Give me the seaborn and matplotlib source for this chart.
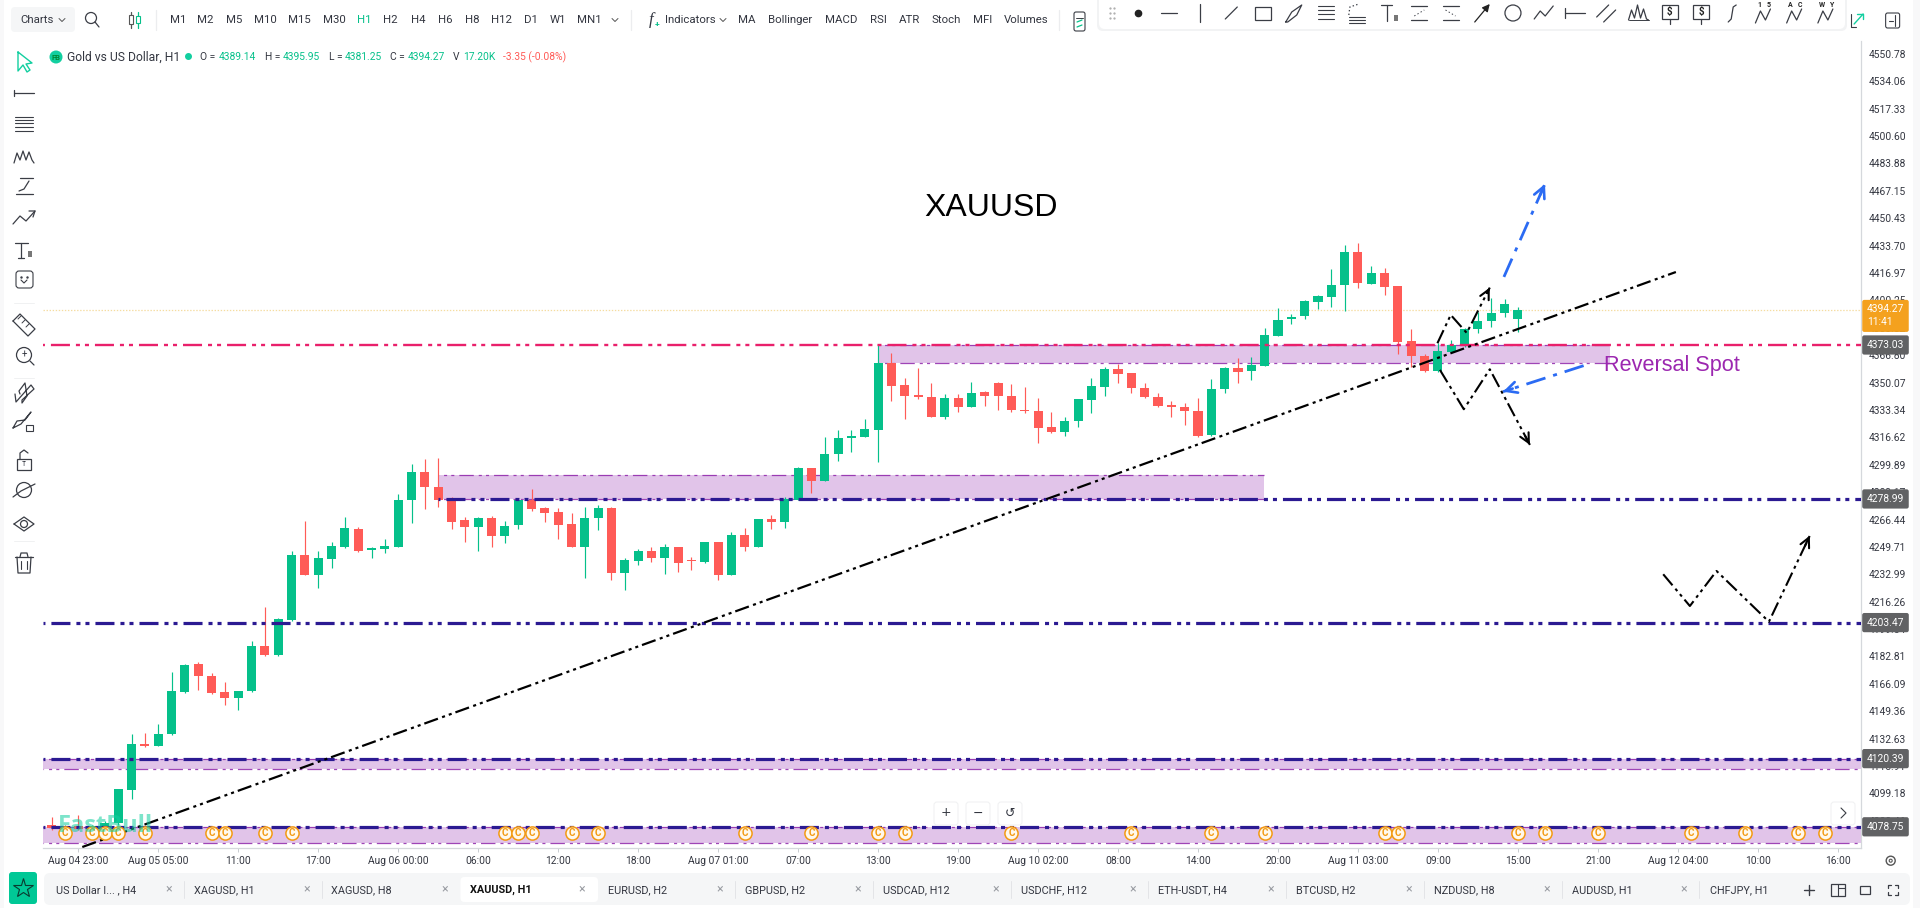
import numpy as np
import pandas as pd
import matplotlib.pyplot as plt
from matplotlib.patches import FancyBboxPatch, Rectangle, Circle
import seaborn as sns

# candles, one per hour, bar 0 is Aug 04 23:00
opens = [4080.0, 4078.0, 4079.0, 4077.5, 4079.0, 4081.0, 4101.2, 4129.1, 4128.3, 4135.4, 4161.3, 4178.2, 4170.8, 4160.9, 4157.6, 4161.7,
         4189.0, 4183.5, 4205.0, 4244.5, 4232.7, 4242.5, 4249.8, 4260.8, 4247.8, 4248.6, 4249.8, 4278.3, 4295.4, 4286.5, 4279.0, 4266.1,
         4262.1, 4267.6, 4256.4, 4262.9, 4278.3, 4273.3, 4270.8, 4263.5, 4249.9, 4267.2, 4273.3, 4233.8, 4241.3, 4247.4, 4242.9, 4249.5,
         4241.5, 4240.7, 4252.7, 4232.6, 4256.8, 4249.9, 4266.6, 4264.7, 4278.4, 4297.7, 4290.0, 4306.3, 4316.0, 4316.8, 4320.9, 4361.8,
         4348.6, 4341.9, 4341.5, 4328.9, 4340.5, 4335.4, 4344.1, 4349.6, 4342.1, 4333.2, 4332.5, 4322.8, 4319.9, 4326.6, 4339.5, 4347.6,
         4358.4, 4355.9, 4346.8, 4341.5, 4336.4, 4335.4, 4332.5, 4317.9, 4346.0, 4358.8, 4357.4, 4360.2, 4378.5, 4388.7, 4390.8, 4399.3,
         4402.6, 4409.9, 4430.1, 4410.5, 4417.0, 4409.1, 4375.5, 4366.5, 4357.4, 4369.0, 4372.4, 4382.6, 4387.7, 4392.4, 4389.14]
highs = [4084.9, 4080.0, 4085.9, 4080.0, 4082.0, 4102.0, 4135.4, 4136.2, 4141.5, 4173.1, 4178.0, 4179.2, 4172.5, 4167.0, 4161.7, 4192.4,
         4213.2, 4206.5, 4247.4, 4265.5, 4247.2, 4252.5, 4267.8, 4261.9, 4249.4, 4254.3, 4281.8, 4300.3, 4303.4, 4304.2, 4280.4, 4267.8,
         4268.0, 4268.6, 4265.3, 4278.5, 4285.1, 4274.0, 4273.3, 4270.6, 4274.3, 4275.3, 4274.0, 4242.7, 4248.2, 4249.5, 4251.3, 4249.9,
         4243.3, 4253.0, 4253.0, 4259.0, 4261.1, 4267.0, 4269.0, 4280.4, 4298.7, 4298.0, 4316.6, 4320.9, 4320.9, 4327.8, 4373.0, 4368.4,
         4352.7, 4358.8, 4349.6, 4343.1, 4343.1, 4350.6, 4345.1, 4350.6, 4349.2, 4347.2, 4340.9, 4332.3, 4329.3, 4340.2, 4352.7, 4359.4,
         4361.4, 4356.2, 4349.6, 4343.9, 4339.0, 4337.8, 4340.5, 4352.1, 4359.6, 4364.9, 4365.9, 4383.2, 4395.4, 4391.8, 4400.5, 4403.6,
         4419.3, 4434.1, 4435.1, 4421.5, 4420.3, 4409.3, 4382.6, 4367.3, 4374.1, 4376.1, 4383.2, 4393.4, 4401.6, 4400.9, 4395.95]
lows = [4076.8, 4077.0, 4076.5, 4076.8, 4078.0, 4080.0, 4095.5, 4127.7, 4128.3, 4135.0, 4160.3, 4162.3, 4159.6, 4153.1, 4150.1, 4161.3,
        4183.3, 4183.3, 4204.4, 4232.3, 4224.8, 4236.6, 4249.0, 4246.4, 4242.9, 4245.8, 4249.4, 4264.5, 4272.6, 4274.3, 4260.4, 4252.9,
        4247.2, 4249.4, 4252.3, 4260.4, 4271.4, 4264.7, 4254.3, 4249.4, 4230.9, 4260.0, 4229.5, 4223.4, 4238.7, 4240.5, 4233.0, 4234.6,
        4235.6, 4240.1, 4229.5, 4232.4, 4247.4, 4249.9, 4260.4, 4261.5, 4278.2, 4282.8, 4289.8, 4302.2, 4307.9, 4316.6, 4301.8, 4338.8,
        4327.6, 4340.1, 4329.0, 4328.0, 4332.3, 4335.2, 4335.8, 4333.3, 4332.3, 4331.7, 4313.4, 4319.1, 4317.5, 4323.2, 4331.7, 4341.9,
        4350.0, 4343.9, 4340.5, 4335.0, 4328.9, 4324.2, 4316.7, 4317.7, 4343.5, 4350.0, 4351.7, 4360.0, 4378.3, 4385.9, 4388.7, 4394.8,
        4396.5, 4394.0, 4408.1, 4410.1, 4403.6, 4367.6, 4359.8, 4356.8, 4356.8, 4368.8, 4372.0, 4380.6, 4383.8, 4390.4, 4381.25]
closes = [4078.0, 4079.0, 4077.5, 4079.0, 4081.0, 4101.6, 4129.3, 4128.3, 4135.4, 4161.9, 4177.6, 4170.8, 4160.3, 4157.6, 4161.7, 4189.0,
          4183.7, 4205.9, 4244.5, 4232.7, 4242.7, 4250.2, 4261.2, 4247.0, 4248.8, 4250.2, 4278.3, 4295.4, 4286.5, 4278.3, 4265.1, 4262.1,
          4267.6, 4256.4, 4262.5, 4278.3, 4272.8, 4270.4, 4263.3, 4249.9, 4267.4, 4273.3, 4233.8, 4241.5, 4247.4, 4242.9, 4249.5, 4240.1,
          4240.9, 4252.7, 4232.6, 4257.0, 4249.9, 4266.6, 4264.7, 4278.8, 4297.7, 4290.2, 4306.3, 4316.0, 4317.3, 4321.7, 4361.8, 4348.2,
          4341.7, 4341.4, 4329.3, 4340.5, 4335.4, 4343.9, 4341.7, 4341.7, 4333.3, 4332.6, 4322.1, 4319.9, 4326.6, 4339.9, 4348.0, 4358.4,
          4355.5, 4346.6, 4341.5, 4335.6, 4335.0, 4332.7, 4317.7, 4346.0, 4358.8, 4356.6, 4360.6, 4379.0, 4388.3, 4390.4, 4399.9, 4402.8,
          4409.9, 4430.1, 4410.7, 4416.8, 4408.7, 4375.1, 4366.3, 4357.4, 4369.4, 4373.0, 4382.6, 4387.9, 4392.8, 4397.9, 4394.27]
first_bar = -2

ytick_values = [4550.78, 4534.06, 4517.33, 4500.60, 4483.88, 4467.15, 4450.43, 4433.70, 4416.97, 4400.25, 4383.52, 4366.80, 4350.07,
                4333.34, 4316.62, 4299.89, 4283.17, 4266.44, 4249.71, 4232.99, 4216.26, 4199.54, 4182.81, 4166.09, 4149.36, 4132.63,
                4115.91, 4099.18, 4082.46]
xtick_bars = [0, 6, 12, 18, 24, 30, 36, 42, 48, 54, 60, 66, 72, 78, 84, 90, 96, 102, 108, 114, 120, 126, 132]
xtick_labels = ["Aug 04 23:00", "Aug 05 05:00", "11:00", "17:00", "Aug 06 00:00", "06:00", "12:00", "18:00", "Aug 07 01:00", "07:00",
                "13:00", "19:00", "Aug 10 02:00", "08:00", "14:00", "20:00", "Aug 11 03:00", "09:00", "15:00", "21:00", "Aug 12 04:00",
                "10:00", "16:00"]

# levels drawn by hand on the chart
navy_levels = [4278.99, 4203.47, 4120.39, 4078.75]
navy_starts = [27, None, None, None]
pink_level = 4373.03
last_price = 4394.27
zone_lows = [4278.99, 4361.9, 4113.9, 4069.0]
zone_highs = [4293.5, 4373.03, 4120.39, 4078.75]
zone_starts = [27, 60.07, None, None]
zone_ends = [88.95, 114.9, None, None]

trend_bars = [0.3, 119.85]
trend_prices = [4066.4, 4417.6]
zig_up_bars = [101.96, 102.96, 104.16, 105.89]
zig_up_prices = [4374.1, 4391.4, 4380.4, 4408.1]
zig_down_bars = [102.15, 103.94, 105.89, 108.9]
zig_down_prices = [4357.8, 4333.8, 4358.2, 4312.0]
zig_low_bars = [118.9, 120.9, 122.9, 126.83, 129.9]
zig_low_prices = [4233.0, 4213.6, 4235.0, 4204.0, 4256.6]
blue_up_bars = [106.95, 110.03]
blue_up_prices = [4414.6, 4471.4]
blue_down_bars = [112.93, 106.88]
blue_down_prices = [4360.4, 4344.5]

# economic calendar badges
badge_bars = [-1, 1, 2, 3, 5, 10, 11, 14, 16, 32, 33, 34, 37, 39, 50, 55, 60, 62, 70, 79, 85, 89, 98, 99, 108, 110, 114, 121, 125, 129, 131]
badge_price = 4075.0

timeframes = ["M1", "M2", "M5", "M10", "M15", "M30", "H1", "H2", "H4", "H6", "H8", "H12", "D1", "W1", "MN1"]
timeframe_x = [178, 205, 234, 265, 299, 334, 364, 390, 418, 445, 472, 502, 531, 558, 589]
indicators = ["MA", "Bollinger", "MACD", "RSI", "ATR", "Stoch", "MFI", "Volumes"]
indicator_x = [747, 790, 841, 878, 909, 946, 983, 1026]
tabs = ["US Dollar I... , H4", "XAGUSD, H1", "XAGUSD, H8", "XAUUSD, H1", "EURUSD, H2", "GBPUSD, H2", "USDCAD, H12", "USDCHF, H12",
        "ETH-USDT, H4", "BTCUSD, H2", "NZDUSD, H8", "AUDUSD, H1", "CHFJPY, H1"]
tab_x = [56, 193.5, 331, 470, 607.5, 745, 883, 1020.6, 1158, 1296, 1434, 1571.8, 1709.5]
tab_close_x = [169, 307, 445, 582, 720, 858, 995.5, 1133, 1271, 1409, 1546.6, 1684]

GREEN = "#05C08A"
RED = "#FF5B57"
NAVY = "#2B1A92"
PINK = "#E9206B"
ZONE = "#E1C4E9"
ZONE_EDGE = "#8E24AA"
TEXT = "#333640"
TEAL = "#12CFA0"

sns.set_theme(style="white")
plt.rcParams["font.family"] = ["Roboto", "DejaVu Sans"]
plt.rcParams["lines.scale_dashes"] = False

NAVY_DASH = (26, (13.7, 4.3, 2.9, 3.6, 2.9, 4.3))
THIN_DASH = (10, (10.4, 3.6, 2.2, 3.0, 2.2, 3.6))
TREND_DASH = (0, (10.4, 3.2, 2.2, 2.9, 2.2, 2.9))
BLUE_DASH = (0, (14.4, 5.8, 2.9, 5.8))

fig = plt.figure(figsize=(19.2, 9.08), dpi=100, facecolor="white")
ax = fig.add_axes([43 / 1920, (908 - 848) / 908, (1860.5 - 43) / 1920, (848 - 41) / 908])
xlim = (-2.648, 133.7)
ylim = (4065.8, 4558.7)

df = pd.DataFrame({"open": opens, "high": highs, "low": lows, "close": closes})
df["bar"] = np.arange(len(df)) + first_bar
df["bottom"] = df[["open", "close"]].min(axis=1)
df["body"] = (df["close"] - df["open"]).abs().clip(lower=0.9)
df["up"] = df["close"] >= df["open"]

# zones under everything
for lo, hi, x0, x1 in zip(zone_lows, zone_highs, zone_starts, zone_ends):
    x0 = xlim[0] if x0 is None else x0
    x1 = xlim[1] if x1 is None else x1
    ax.fill_between([x0, x1], lo, hi, color=ZONE, lw=0, zorder=1)
    ax.plot([x0, x1], [hi, hi], color=ZONE_EDGE, lw=0.9, ls=THIN_DASH, alpha=0.85, zorder=1.5)
    ax.plot([x0, x1], [lo, lo], color=ZONE_EDGE, lw=0.9, ls=THIN_DASH, alpha=0.85, zorder=1.5)

# candles
for is_up, color in [(True, GREEN), (False, RED)]:
    part = df[df["up"] == is_up]
    ax.vlines(part["bar"], part["low"], part["high"], color=color, lw=0.85, zorder=2)
    sns.barplot(x=part["bar"].values, y=part["body"].values, bottom=part["bottom"].values, native_scale=True, orient="x",
                color=color, saturation=1, width=0.68, errorbar=None, linewidth=0, ax=ax, zorder=3)

# levels
for level, start in zip(navy_levels, navy_starts):
    ax.plot([xlim[0] if start is None else start, xlim[1]], [level, level], color=NAVY, lw=2.3, ls=NAVY_DASH, zorder=4)
ax.plot(xlim, [pink_level, pink_level], color=PINK, lw=1.7, ls=NAVY_DASH, zorder=4)
ax.plot(xlim, [last_price, last_price], color="#F5DCA0", lw=0.9, ls=(0, (1, 1.2)), zorder=1.5)


def arrow_head(bars, prices, color, lw=1.5, size=17):
    tip = (bars[-1], prices[-1])
    back = (bars[-1] - (bars[-1] - bars[-2]) * 0.12, prices[-1] - (prices[-1] - prices[-2]) * 0.12)
    ax.annotate("", xy=tip, xytext=back, zorder=6,
                arrowprops=dict(arrowstyle="->", color=color, lw=lw, mutation_scale=size, shrinkA=0, shrinkB=0))


# hand drawn trend line, zigzags and arrows
ax.plot(trend_bars, trend_prices, color="black", lw=1.6, ls=TREND_DASH, zorder=5)
for bars, prices in [(zig_up_bars, zig_up_prices), (zig_down_bars, zig_down_prices), (zig_low_bars, zig_low_prices)]:
    ax.plot(bars, prices, color="black", lw=1.5, ls=TREND_DASH, zorder=5)
    arrow_head(bars, prices, "black")
for bars, prices in [(blue_up_bars, blue_up_prices), (blue_down_bars, blue_down_prices)]:
    ax.plot(bars, prices, color="#2B6BF3", lw=2.0, ls=BLUE_DASH, zorder=5)
    arrow_head(bars, prices, "#2B6BF3", lw=1.9, size=20)

# calendar badges, then the watermark washed over them
ax.scatter(badge_bars, [badge_price] * len(badge_bars), s=90, facecolor="#FFF8EC", edgecolor="#F39A12", linewidth=1.1, zorder=7)
for b in badge_bars:
    ax.text(b, badge_price, "C", fontsize=7.2, fontweight="bold", color="#F39A12", ha="center", va="center", zorder=8)
ax.text(-1.52, 4079, "FastBull", fontsize=17, fontweight="bold", color=TEAL, alpha=0.55, family="Open Sans",
        va="center", ha="left", zorder=8.5)

ax.text(63.44, 4457, "XAUUSD", fontsize=23, color="black", family="Liberation Sans", va="center", ha="left", zorder=6)
ax.text(114.45, 4360.3, "Reversal Spot", fontsize=15.6, color="#9C27B0", family="Liberation Sans", va="center", ha="left", zorder=6)

# axes
ax.set_xlim(xlim)
ax.set_ylim(ylim)
ax.set_xlabel("")
ax.set_ylabel("")
ax.set_xticks(xtick_bars)
ax.set_xticklabels(xtick_labels)
ax.yaxis.tick_right()
ax.set_yticks(ytick_values)
ax.set_yticklabels([f"{v:.2f}" for v in ytick_values])
ax.tick_params(axis="x", length=2.6, width=0.7, color="#C9CCD1", labelsize=7.4, labelcolor=TEXT, pad=3.5, bottom=True)
ax.tick_params(axis="y", length=2.6, width=0.7, color="#C9CCD1", labelsize=7.4, labelcolor=TEXT, pad=3.2, right=True, left=False)
ax.grid(False)
sns.despine(ax=ax, left=True, top=True, right=False, bottom=False)
for side in ["right", "bottom"]:
    ax.spines[side].set_color("#D5D8DC")
    ax.spines[side].set_linewidth(0.9)

# price tags on the right hand scale
tag_x = (1885.5 - 43) / (1860.5 - 43)
trans = ax.get_yaxis_transform()
for level in [pink_level] + navy_levels:
    ax.text(tag_x, level, f"{level:.2f}", transform=trans, fontsize=7.4, color="white", ha="center", va="center", zorder=9, clip_on=False,
            bbox=dict(boxstyle="round,pad=0.45,rounding_size=0.2", fc="#616264", ec="none"))
ax.text(tag_x, 4390.8, f"{last_price:.2f}\n11:41", transform=trans, fontsize=7.4, color="white", ha="center", va="center", multialignment="left",
        linespacing=1.35, zorder=9, clip_on=False, bbox=dict(boxstyle="round,pad=0.45,rounding_size=0.2", fc="#F4A11E", ec="none"))

# app chrome on a pixel overlay
ui = fig.add_axes([0, 0, 1, 1], zorder=5)
ui.set_xlim(0, 1920)
ui.set_ylim(908, 0)
ui.axis("off")
ui.patch.set_alpha(0)


def label(x, y, s, size=8.2, color=TEXT, ha="left", **kw):
    ui.text(x, y, s, fontsize=size, color=color, ha=ha, va="center", **kw)


def seg(xs, ys, color="#3A3D45", lw=0.9, **kw):
    ui.plot(xs, ys, color=color, lw=lw, solid_capstyle="round", **kw)


def box(x0, y0, x1, y1, fc="white", ec="none", r=3, lw=0.8, z=2, alpha=1):
    ui.add_patch(FancyBboxPatch((x0 + r, y0 + r), x1 - x0 - 2 * r, y1 - y0 - 2 * r, boxstyle=f"round,pad={r},rounding_size={r}",
                                fc=fc, ec=ec, lw=lw, zorder=z, alpha=alpha))


def chevron(x, y, color="#555"):
    seg([x - 3, x, x + 3], [y - 1.5, y + 1.5, y - 1.5], color=color, lw=0.7)


ui.add_patch(Rectangle((1913, 0), 7, 908, fc="#F8F8F9", ec="none", zorder=0))
ui.add_patch(Rectangle((0, 0), 4, 908, fc="#F8F8F9", ec="none", zorder=0))

# top bar
box(11, 7, 75, 32, fc="#F5F6F7", r=4)
label(20, 20, "Charts", zorder=3)
chevron(62, 20)
ui.add_patch(Circle((91, 18), 5.5, fc="none", ec="#3A3D45", lw=0.9))
seg([95, 99], [22, 27])
seg([131, 131], [12, 28], color="#555")
ui.add_patch(Rectangle((129, 15), 4, 9, fc="white", ec="#555", lw=0.8, zorder=3))
seg([137.5, 137.5], [12, 28], color=GREEN)
ui.add_patch(Rectangle((135.5, 16), 4, 7, fc="white", ec=GREEN, lw=0.8, zorder=3))
seg([156, 156], [10, 30], color="#ECEDEF")
for name, x in zip(timeframes, timeframe_x):
    label(x, 20, name, ha="center", color=GREEN if name == "H1" else TEXT)
chevron(615, 20)
seg([631, 631], [10, 30], color="#ECEDEF")
label(651, 20, "f", size=12, ha="center", style="italic", family="Liberation Serif")
label(657, 25, "+", size=6, ha="center", color=GREEN, fontweight="bold")
label(665, 20, "Indicators")
chevron(723, 20)
for name, x in zip(indicators, indicator_x):
    label(x, 20, name, ha="center")
seg([1059, 1059], [10, 30], color="#ECEDEF")
box(1074, 12, 1085, 31, fc="white", ec="#3A3D45", r=2)
seg([1076, 1083], [18, 18], color="#3A3D45", lw=0.7)
seg([1077, 1082], [22, 20], color=GREEN)
seg([1077, 1082], [27, 25], color=GREEN)

# floating drawing toolbar
box(1097, -8, 1847, 31, fc="#EDEEF0", r=6, alpha=0.7, z=2)
box(1099, -8, 1845, 29, fc="white", r=6, z=3)
tool_x = 960 + np.array([248, 290, 341, 392, 443, 494, 545, 597, 648, 699, 750, 801, 852, 903, 954, 1005, 1056, 1108, 1159, 1210, 1261, 1312, 1363, 1414]) / 1.633
ty = 13
for gx in [-2, 2]:
    for gy in [-5, 0, 5]:
        ui.plot(tool_x[0] + gx, ty + gy, ".", ms=1.2, color="#AAA", zorder=4)
z4 = dict(zorder=4)
ui.plot(tool_x[1], ty, "o", ms=4.5, color="#222", **z4)
seg([tool_x[2] - 8, tool_x[2] + 8], [ty, ty], **z4)
seg([tool_x[3], tool_x[3]], [ty - 9, ty + 9], **z4)
seg([tool_x[4] - 6, tool_x[4] + 6], [ty + 6, ty - 6], **z4)
ui.add_patch(Rectangle((tool_x[5] - 8, ty - 6), 16, 13, fc="none", ec="#3A3D45", lw=0.9, zorder=4))
seg([tool_x[6] - 8, tool_x[6] - 2, tool_x[6] + 8, tool_x[6] + 3, tool_x[6] - 6, tool_x[6] - 8], [ty + 9, ty - 1, ty - 8, ty + 2, ty + 9, ty + 9], **z4)
for off in [-7, -3, 1, 6]:
    seg([tool_x[7] - 8, tool_x[7] + 8], [ty + off, ty + off], lw=0.8, **z4)
for off in [4, 7, 10]:
    seg([tool_x[8] - 8, tool_x[8] + 8], [ty + off, ty + off], lw=0.8, **z4)
seg([tool_x[8] - 8, tool_x[8] - 7, tool_x[8] + 2], [ty + 2, ty - 6, ty - 9], ls=":", **z4)
seg([tool_x[9] - 7, tool_x[9] + 4], [ty - 8, ty - 8], **z4)
seg([tool_x[9] - 1, tool_x[9] - 1], [ty - 8, ty + 8], **z4)
ui.add_patch(Rectangle((tool_x[9] + 6, ty + 2), 4, 6, fc="#777", ec="none", zorder=4))
for i in [10, 11]:
    seg([tool_x[i] - 8, tool_x[i] + 8], [ty - 7, ty - 7], **z4)
    seg([tool_x[i] - 8, tool_x[i] + 8], [ty + 7, ty + 7], **z4)
    seg([tool_x[i] - 5, tool_x[i] + 5], [ty + 3 if i == 10 else ty - 3, ty - 3 if i == 10 else ty + 3], lw=0.7, ls=":", **z4)
ui.annotate("", xy=(tool_x[12] + 8, ty - 9), xytext=(tool_x[12] - 7, ty + 9), zorder=4, arrowprops=dict(arrowstyle="-|>", color="#222", lw=0.9, mutation_scale=11, shrinkA=0, shrinkB=0))
ui.add_patch(Circle((tool_x[13], ty), 8, fc="none", ec="#3A3D45", lw=0.9, zorder=4))
x = tool_x[14]
seg([x - 10, x - 4, x + 1, x + 9], [ty + 6, ty - 2, ty + 3, ty - 7], **z4)
x = tool_x[15]
seg([x - 10, x - 10], [ty - 5, ty + 5], **z4)
seg([x - 10, x + 10], [ty, ty], **z4)
x = tool_x[16]
seg([x - 10, x + 2], [ty + 4, ty - 8], **z4)
seg([x - 3, x + 9], [ty + 9, ty - 3], **z4)
x = tool_x[17]
seg([x - 10, x - 7, x - 4, x - 1, x + 2, x + 5, x + 8, x + 10], [ty + 7, ty - 3, ty + 5, ty - 8, ty + 5, ty - 4, ty + 6, ty + 7], **z4)
seg([x - 10, x + 10], [ty + 7, ty + 7], lw=0.7, **z4)
for i in [18, 19]:
    x = tool_x[i]
    ui.add_patch(Rectangle((x - 8, ty - 8), 16, 14, fc="none", ec="#3A3D45", lw=0.9, zorder=4))
    ui.text(x, ty - 1, "$", fontsize=7, fontweight="bold", color="#222", ha="center", va="center", zorder=5)
    seg([x, x], [ty + 6, ty + 11], **z4)
x = tool_x[20]
seg([x + 4, x + 1, x - 1, x - 4], [ty - 8, ty - 6, ty + 6, ty + 9], **z4)
for i, pair in [(21, ("1", "5")), (22, ("A", "C")), (23, ("W", "Y"))]:
    x = tool_x[i]
    seg([x - 8, x - 3, x + 2, x + 7], [ty + 10, ty - 2, ty + 7, ty - 4], **z4)
    ui.text(x - 4, ty - 8, pair[0], fontsize=5, fontweight="bold", color="#222", ha="center", va="center", zorder=5)
    ui.text(x + 5, ty - 8, pair[1], fontsize=5, fontweight="bold", color="#222", ha="center", va="center", zorder=5)
x = 960 + 1465 / 1.633
seg([x - 6, x - 6, x - 1], [14, 27, 27], color="#3A3D45", lw=0.8)
seg([x - 3, x + 6], [24, 14], color=TEAL, lw=1)
seg([x, x + 6, x + 6], [14, 14, 19], color=TEAL, lw=1)
x = 960 + 1523 / 1.633
box(x - 7, 13, x + 7, 28, fc="white", ec="#3A3D45", r=2)
seg([x + 2, x + 2], [15, 26], lw=0.8)
seg([x - 4, x], [20.5, 20.5], lw=0.8)

# symbol line
ui.add_patch(Circle((56, 57), 6.5, fc=TEAL, ec="none"))
ui.text(56, 57, "FB", fontsize=5.5, fontweight="bold", color="#083", ha="center", va="center")
label(67, 57, "Gold vs US Dollar, H1", size=8.7)
ui.plot(188, 56, "o", ms=4, color=TEAL)
for name, x_name, val, x_val in [("O =", 200, "4389.14", 219), ("H =", 265, "4395.95", 283), ("L =", 329, "4381.25", 345), ("C =", 390, "4394.27", 408), ("V", 453, "17.20K", 463)]:
    label(x_name, 57, name, size=7.4)
    label(x_val, 57, val, size=7.4, color=GREEN)
label(503, 57, "-3.35 (-0.08%)", size=7.4, color=RED)

# left icons
cx = 24
seg([18, 18, 23, 27, 30, 26, 32, 18], [52, 71, 65, 72, 70, 64, 63, 52], color=TEAL, lw=1)
seg([cx - 10, cx - 10], [90, 96])
seg([cx - 10, cx + 10], [93, 93])
for yy in [117, 120, 123, 127, 131]:
    seg([cx - 9, cx + 9], [yy, yy], lw=0.8)
seg([cx - 10, cx - 7, cx - 4, cx - 1, cx + 2, cx + 5, cx + 8, cx + 10], [163, 153, 160, 151, 160, 152, 160, 163])
seg([cx - 8, cx + 9], [194, 194])
seg([cx - 4, cx + 9], [178, 178])
seg([cx - 5, cx, cx + 5], [191, 189, 181])
seg([cx - 11, cx - 4, cx + 2, cx + 11], [224, 216, 221, 211])
seg([cx + 5, cx + 11, cx + 9], [211, 211, 217])
seg([cx - 9, cx + 4], [243, 243])
seg([cx - 3, cx - 3], [243, 258])
seg([cx - 6, cx], [258, 258])
ui.add_patch(Rectangle((cx + 4, 251), 4, 6, fc="#777", ec="none"))
box(cx - 8, 271, cx + 9, 288, fc="white", ec="#3A3D45", r=3)
seg([cx - 3, cx, cx + 3], [280, 283, 280], lw=0.8)
ui.plot([cx - 3, cx + 3], [277, 277], ".", ms=1.5, color="#3A3D45")
seg([cx - 11, cx + 4, cx + 11, cx - 4, cx - 11], [321, 336, 329, 314, 321])
for d in [0, 4, 8]:
    seg([cx - 6 + d, cx - 3 + d], [319 + d, 316 + d], lw=0.7)
ui.add_patch(Circle((cx, 355), 7.5, fc="none", ec="#3A3D45", lw=0.9))
label(cx, 355, "+", size=7, ha="center")
seg([cx + 6, cx + 10], [361, 365])
seg([cx - 9, cx - 8, cx + 7, cx + 10, cx - 2, cx - 2, cx + 3, cx + 1, cx - 5, cx - 4], [394, 402, 385, 389, 400, 403, 396, 383, 391, 394])
seg([cx - 11, cx - 7, cx + 1, cx + 7, cx - 3, cx - 11], [428, 421, 420, 412, 424, 428])
ui.add_patch(Rectangle((cx + 2, 425), 7, 6, fc="none", ec="#3A3D45", lw=0.8))
ui.add_patch(Rectangle((cx - 7, 459), 14, 11, fc="none", ec="#3A3D45", lw=0.9))
seg([cx - 4, cx - 4, cx, cx + 4], [459, 453, 450, 453])
label(cx, 465, "T", size=5, ha="center")
ui.add_patch(Circle((cx, 490), 7.5, fc="none", ec="#3A3D45", lw=0.9))
seg([cx - 11, cx - 3, cx + 11], [497, 491, 484])
seg([cx - 10, cx, cx + 10, cx, cx - 10], [524, 517, 524, 531, 524])
ui.add_patch(Circle((cx, 524), 3.5, fc="none", ec="#3A3D45", lw=0.9))
seg([cx - 9, cx + 9], [557, 557])
seg([cx - 7, cx - 6, cx + 6, cx + 7], [557, 573, 573, 557])
seg([cx - 3, cx - 3], [561, 569], lw=0.8)
seg([cx + 3, cx + 3], [561, 569], lw=0.8)
seg([cx - 4, cx - 3, cx + 3, cx + 4], [557, 553, 553, 557])
for yy in [303, 378, 541]:
    seg([cx - 10, cx + 10], [yy, yy], color="#F0F1F2", lw=0.7)

# chart buttons
for x, s in [(946, "+"), (978, "\u2212"), (1010, "\u21BA")]:
    box(x - 12, 802, x + 12, 825, fc="white", ec="#F1F2F3", r=3, z=4)
    ui.text(x, 813, s, fontsize=9, color=TEXT, ha="center", va="center", zorder=5, family=["DejaVu Sans"])
box(1831, 802, 1855, 825, fc="white", ec="#F1F2F3", r=3, z=4)
seg([1841, 1846, 1841], [808, 813, 818], lw=0.8, zorder=5)
ui.add_patch(Circle((1890.7, 860.7), 4.5, fc="none", ec="#555", lw=1))
ui.add_patch(Circle((1890.7, 860.7), 1.5, fc="none", ec="#555", lw=0.8))

# tab bar
box(9, 872, 37, 904, fc="#00C896", r=3)
ui.plot(23, 888, marker="*", ms=15, mfc="none", mec="#0A3B30", mew=0.8)
box(44, 873, 1910, 905, fc="#F5F6F7", r=6)
box(460.5, 877, 598, 902, fc="white", r=4, z=2.5)
for name, x in zip(tabs, tab_x):
    label(x, 890, name, size=7.8, fontweight="bold" if name == "XAUUSD, H1" else "normal", zorder=3, color="#111" if name == "XAUUSD, H1" else TEXT)
for x in tab_close_x:
    ui.text(x, 889, "\u00D7", fontsize=9, color="#9A9DA3", ha="center", va="center", zorder=3)
    if abs(x - 582) > 1 and abs(x - 445) > 1:
        seg([x + 15, x + 15], [881, 898], color="#E3E4E7", lw=0.7, zorder=3)
seg([1808.7 - 5, 1808.7 + 5], [890, 890], lw=1, zorder=3)
seg([1808.7, 1808.7], [885, 895], lw=1, zorder=3)
ui.add_patch(Rectangle((1830.5, 884), 14, 12, fc="none", ec="#3A3D45", lw=0.9, zorder=3))
seg([1837.5, 1837.5], [884, 896], lw=0.8, zorder=3)
seg([1837.5, 1844.5], [888, 888], lw=0.8, zorder=3)
ui.add_patch(Rectangle((1860, 886), 10, 8, fc="none", ec="#3A3D45", lw=0.9, zorder=3))
for (x0, y0, dx, dy) in [(1888, 885, 1, 1), (1898, 885, -1, 1), (1888, 895, 1, -1), (1898, 895, -1, -1)]:
    seg([x0, x0, x0 + 3 * dx], [y0 + 3 * dy, y0, y0], lw=0.9, zorder=3)

fig.savefig("out.png", dpi=100)
plt.close(fig)
